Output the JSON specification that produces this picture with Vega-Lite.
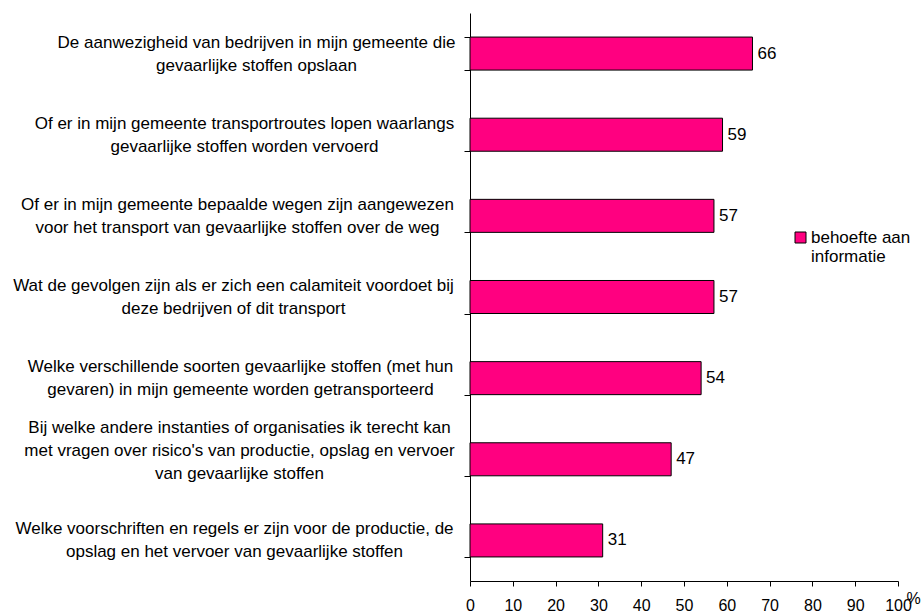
{
  "$schema": "https://vega.github.io/schema/vega-lite/v6.json",
  "width": 428,
  "height": 568,
  "autosize": "none",
  "padding": {"left": 470, "top": 13, "right": 25, "bottom": 32},
  "background": "white",
  "config": {
    "view": {"stroke": null},
    "font": "Liberation Sans",
    "axis": {"labelFont": "Liberation Sans", "titleFont": "Liberation Sans", "domainColor": "black", "tickColor": "black", "labelColor": "black", "grid": false}
  },
  "data": {
    "values": [
      {"vraag": "De aanwezigheid van bedrijven in mijn gemeente die|gevaarlijke stoffen opslaan", "pct": 66, "reeks": "behoefte aan informatie"},
      {"vraag": "Of er in mijn gemeente transportroutes lopen waarlangs|gevaarlijke stoffen worden vervoerd", "pct": 59, "reeks": "behoefte aan informatie"},
      {"vraag": "Of er in mijn gemeente bepaalde wegen zijn aangewezen|voor het transport van gevaarlijke stoffen over de weg", "pct": 57, "reeks": "behoefte aan informatie"},
      {"vraag": "Wat de gevolgen zijn als er zich een calamiteit voordoet bij|deze bedrijven of dit transport", "pct": 57, "reeks": "behoefte aan informatie"},
      {"vraag": "Welke verschillende soorten gevaarlijke stoffen (met hun|gevaren) in mijn gemeente worden getransporteerd", "pct": 54, "reeks": "behoefte aan informatie"},
      {"vraag": "Bij welke andere instanties of organisaties ik terecht kan|met vragen over risico's van productie, opslag en vervoer|van gevaarlijke stoffen", "pct": 47, "reeks": "behoefte aan informatie"},
      {"vraag": "Welke voorschriften en regels er zijn voor de productie, de|opslag en het vervoer van gevaarlijke stoffen", "pct": 31, "reeks": "behoefte aan informatie"}
    ]
  },
  "encoding": {
    "y": {
      "field": "vraag",
      "type": "nominal",
      "sort": null,
      "scale": {"paddingInner": 0.593, "paddingOuter": 0.2965},
      "axis": {
        "title": null,
        "labelExpr": "isValid(datum.value) ? split(datum.value, '|') : ''",
        "labelAlign": "center",
        "labelBaseline": "middle",
        "labelFontSize": 17,
        "labelLineHeight": 23,
        "labelOffset": {
          "condition": {"test": "isValid(datum.value) && length(split(datum.value, '|')) === 3", "value": -32},
          "value": -11.5
        },
        "labelPadding": {
          "condition": [
            {"test": "isValid(datum.value) && indexof(datum.value, 'De aanwezigheid') === 0", "value": 208},
            {"test": "isValid(datum.value) && indexof(datum.value, 'Of er in mijn gemeente transport') === 0", "value": 220},
            {"test": "isValid(datum.value) && indexof(datum.value, 'Of er in mijn gemeente bepaalde') === 0", "value": 227},
            {"test": "isValid(datum.value) && indexof(datum.value, 'Wat de gevolgen') === 0", "value": 231},
            {"test": "isValid(datum.value) && indexof(datum.value, 'Welke verschillende') === 0", "value": 224},
            {"test": "isValid(datum.value) && indexof(datum.value, 'Bij welke') === 0", "value": 225},
            {"test": "isValid(datum.value) && indexof(datum.value, 'Welke voorschriften') === 0", "value": 230}
          ],
          "value": 225
        },
        "labelLimit": 0,
        "tickBand": "extent",
        "tickSize": 6,
        "domainColor": "black"
      }
    },
    "x": {
      "field": "pct",
      "type": "quantitative",
      "scale": {"domain": [0, 100], "nice": false},
      "axis": {
        "title": "%",
        "titleFontSize": 16,
        "titleFontWeight": "normal",
        "titleX": 443,
        "titleY": 17,
        "titleAnchor": "start",
        "titleAlign": "center",
        "titleBaseline": "middle",
        "values": [0, 10, 20, 30, 40, 50, 60, 70, 80, 90, 100],
        "labelFontSize": 16,
        "labelPadding": 11,
        "tickSize": 5,
        "labelFlush": false,
        "labelOverlap": false
      }
    }
  },
  "layer": [
    {
      "mark": {"type": "bar", "stroke": "black", "strokeWidth": 1},
      "encoding": {
        "color": {
          "field": "reeks",
          "type": "nominal",
          "scale": {"range": ["#FF0080"]},
          "legend": {
            "title": null,
            "orient": "none",
            "legendX": 322,
            "legendY": 216,
            "symbolType": "square",
            "symbolSize": 121,
            "symbolStrokeColor": "black",
            "symbolStrokeWidth": 1,
            "labelFontSize": 17,
            "labelFont": "Liberation Sans",
            "labelColor": "black",
            "labelLimit": 0,
            "labelOffset": 2,
            "labelExpr": "['behoefte aan', 'informatie']"
          }
        }
      }
    },
    {
      "mark": {"type": "text", "align": "left", "baseline": "middle", "dx": 5, "fontSize": 17, "font": "Liberation Sans", "color": "black"},
      "encoding": {"text": {"field": "pct", "type": "quantitative"}}
    }
  ]
}
